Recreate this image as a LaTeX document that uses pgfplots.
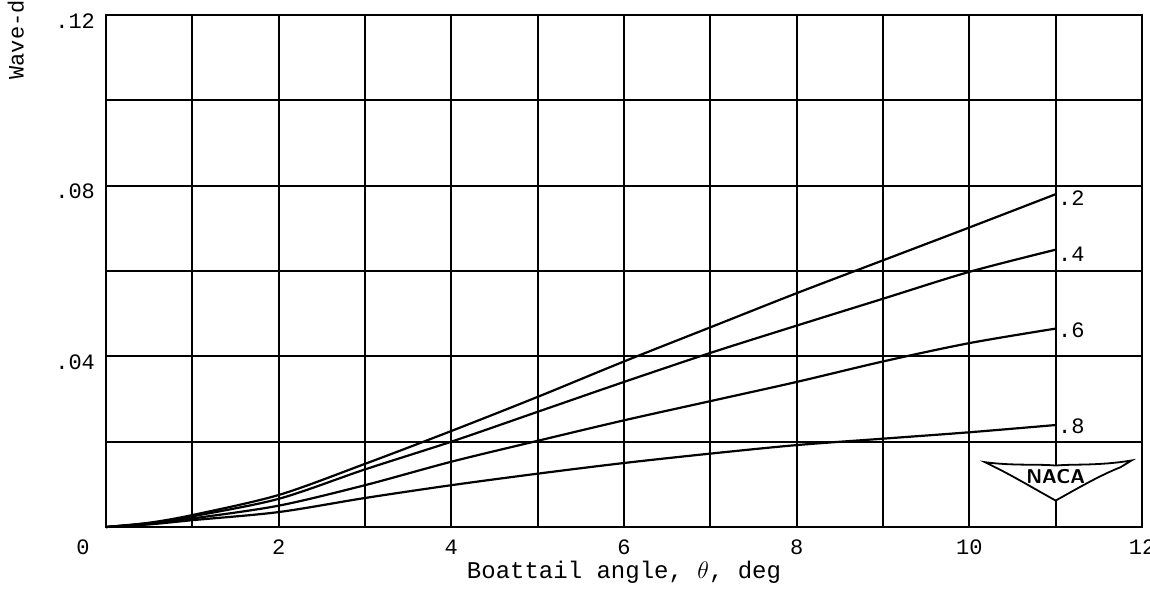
\documentclass[border=0pt]{standalone}
\usepackage{pgfplots}
\pgfplotsset{compat=1.18}
\usepackage{fontspec}
\setmainfont{Liberation Mono}
\begin{document}
\begin{tikzpicture}
\begin{axis}[
  at={(0,0)}, anchor=origin,
  scale only axis, width=518pt, height=256pt,
  xmin=0, xmax=12, ymin=0, ymax=0.12,
  xtick={1,...,12}, xticklabels={,2,,4,,6,,8,,10,,12},
  ytick={0.02,0.04,0.06,0.08,0.10,0.12}, yticklabels={,.04,,.08,,.12},
  grid=major, major grid style={black, line width=1.1pt},
  axis line style={black, line width=1.2pt},
  major tick length=0pt,
  tick label style={font=\fontsize{11}{13}\selectfont},
  /pgf/number format/assume math mode=true,
  xticklabel style={yshift=-3pt},
  yticklabel style={xshift=-2pt, yshift=-3pt},
  clip=false,
]
\addplot[black, line width=1.1pt, smooth] coordinates {(0,0) (0.5,0.001) (1,0.0028) (2,0.0075) (3,0.0148) (4,0.0225) (5,0.0305) (6,0.0388) (7,0.0468) (8,0.0548) (9,0.0625) (10,0.0702) (11,0.078)};
\addplot[black, line width=1.1pt, smooth] coordinates {(0,0) (0.5,0.0009) (1,0.0025) (2,0.0066) (3,0.0135) (4,0.0200) (5,0.0270) (6,0.0340) (7,0.0408) (8,0.0472) (9,0.0535) (10,0.0598) (11,0.065)};
\addplot[black, line width=1.1pt, smooth] coordinates {(0,0) (0.5,0.0008) (1,0.002) (2,0.0050) (3,0.0098) (4,0.0153) (5,0.0202) (6,0.0250) (7,0.0295) (8,0.034) (9,0.0388) (10,0.0431) (11,0.0465)};
\addplot[black, line width=1.1pt, smooth] coordinates {(0,0) (0.5,0.0006) (1,0.0016) (2,0.0035) (3,0.0068) (4,0.0098) (5,0.0125) (6,0.0150) (7,0.0172) (8,0.0192) (9,0.0207) (10,0.0222) (11,0.0239)};
\begin{scope}[font=\fontsize{11}{13}\selectfont]
\node[anchor=west, inner sep=1pt] at (axis cs:11,0.077) {.2};
\node[anchor=west, inner sep=1pt] at (axis cs:11,0.064) {.4};
\node[anchor=west, inner sep=1pt] at (axis cs:11,0.046) {.6};
\node[anchor=west, inner sep=1pt] at (axis cs:11,0.0235) {.8};
\node[anchor=north east, inner sep=0pt] at (axis cs:0,0) [xshift=-8pt, yshift=-6pt] {0};
\end{scope}
% NACA logo
\filldraw[fill=white, draw=black, line width=0.9pt]
  (axis cs:10.18,0.0152) .. controls (axis cs:10.5,0.0143) and (axis cs:10.8,0.0148) .. (axis cs:11.0,0.0144)
  .. controls (axis cs:11.2,0.0148) and (axis cs:11.5,0.0143) .. (axis cs:11.88,0.0156)
  -- (axis cs:11.75,0.0140)
  .. controls (axis cs:11.5,0.0120) and (axis cs:11.25,0.0090) .. (axis cs:11.0,0.0062)
  .. controls (axis cs:10.75,0.0090) and (axis cs:10.5,0.0120) .. (axis cs:10.30,0.0140)
  -- cycle;
\node[font=\sffamily\bfseries\fontsize{10}{12}\selectfont, inner sep=0pt] at (axis cs:11.0,0.0118) {NACA};
\end{axis}
\node[rotate=90, anchor=west, inner sep=0pt, font=\fontsize{11}{13}\selectfont] at (-44pt,223.5pt) {Wave-drag coefficient, $C_{D}$};
\node[font=\fontsize{12}{14}\selectfont, inner sep=0pt] at (259pt,-22.5pt) {Boattail angle, $\theta$, deg};
\pgfresetboundingbox
\useasboundingbox (-53pt,-31pt) rectangle (522pt,263.5pt);
\end{tikzpicture}
\end{document}
